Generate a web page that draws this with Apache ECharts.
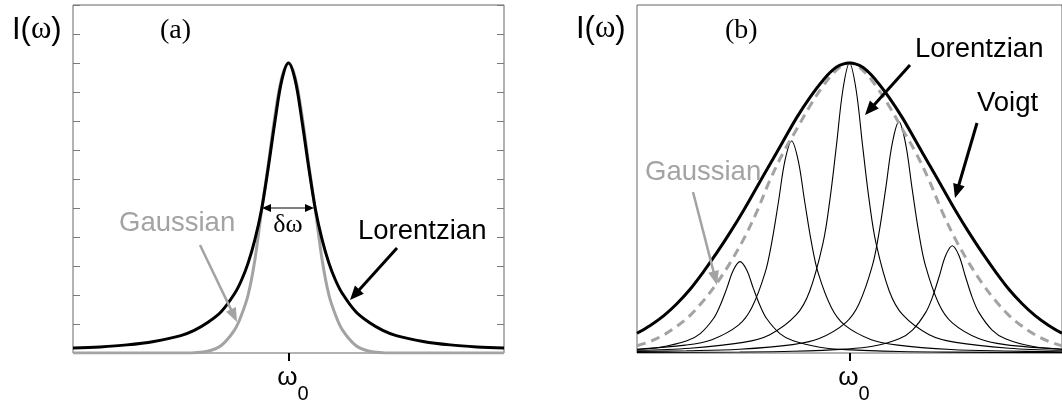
<!DOCTYPE html>
<html>
<head>
<meta charset="utf-8">
<script src="https://cdn.jsdelivr.net/npm/echarts@6/dist/echarts.min.js"></script>
<style>
  html, body { margin: 0; padding: 0; background: #ffffff; }
  #chart { width: 1062px; height: 405px; }
</style>
</head>
<body>
<div id="chart"></div>
<script>
// ---- Panel (a): single line shapes, x in units of detuning from omega_0 ----
const leftX = [-8, -7, -6, -5, -4, -3.5, -3, -2.5, -2, -1.75, -1.5, -1.25, -1, -0.75, -0.5, -0.25, 0,
               0.25, 0.5, 0.75, 1, 1.25, 1.5, 1.75, 2, 2.5, 3, 3.5, 4, 5, 6, 7, 8];
const lorentzianA = [0.17, 0.21, 0.28, 0.4, 0.6, 0.78, 1.05, 1.42, 2.05, 2.5, 3.1, 3.9, 4.95, 6.4, 8.0, 9.4, 10,
                     9.4, 8.0, 6.4, 4.95, 3.9, 3.1, 2.5, 2.05, 1.42, 1.05, 0.78, 0.6, 0.4, 0.28, 0.21, 0.17];
const gaussianA = [0, 0, 0, 0, 0, 0.01, 0.06, 0.26, 0.8, 1.3, 2.0, 3.2, 4.9, 6.5, 8.2, 9.5, 10,
                   9.5, 8.2, 6.5, 4.9, 3.2, 2.0, 1.3, 0.8, 0.26, 0.06, 0.01, 0, 0, 0, 0, 0];

// ---- Panel (b): inhomogeneous broadening ----
const rightX = [-8, -7.5, -7, -6.5, -6, -5.5, -5, -4.5, -4, -3.5, -3, -2.5, -2, -1.5, -1, -0.5, 0,
                0.5, 1, 1.5, 2, 2.5, 3, 3.5, 4, 4.5, 5, 5.5, 6, 6.5, 7, 7.5, 8];
const voigtB = [0.68, 0.95, 1.28, 1.7, 2.2, 2.8, 3.45, 4.15, 4.9, 5.7, 6.5, 7.3, 8.1, 8.8, 9.4, 9.85, 10,
                9.85, 9.4, 8.8, 8.1, 7.3, 6.5, 5.7, 4.9, 4.15, 3.45, 2.8, 2.2, 1.7, 1.28, 0.95, 0.68];
const gaussianB = [0.25, 0.4, 0.62, 0.92, 1.3, 1.8, 2.4, 3.1, 3.9, 4.85, 5.95, 6.9, 7.7, 8.5, 9.2, 9.75, 10,
                   9.75, 9.2, 8.5, 7.7, 6.9, 5.95, 4.85, 3.9, 3.1, 2.4, 1.8, 1.3, 0.92, 0.62, 0.4, 0.25];

// individual homogeneous (Lorentzian) lines, [x, intensity]
const line1 = [[-8, 0.12], [-7.12, 0.2], [-6.12, 0.42], [-5.62, 0.67], [-5.12, 1.19], [-4.87, 1.64], [-4.62, 2.23],
               [-4.37, 2.86], [-4.12, 3.15], [-3.87, 2.86], [-3.62, 2.23], [-3.37, 1.64], [-3.12, 1.19], [-2.62, 0.67],
               [-2.12, 0.42], [-1.12, 0.2], [-0.12, 0.115], [1.88, 0.052], [3.88, 0.03], [8, 0.013]];
const line2 = [[-8, 0.13], [-6.18, 0.27], [-5.18, 0.46], [-4.18, 0.96], [-3.68, 1.56], [-3.18, 2.76], [-2.93, 3.8],
               [-2.68, 5.18], [-2.43, 6.63], [-2.18, 7.31], [-1.93, 6.63], [-1.68, 5.18], [-1.43, 3.8], [-1.18, 2.76],
               [-0.68, 1.56], [-0.18, 0.96], [0.82, 0.46], [1.82, 0.27], [3.82, 0.12], [5.82, 0.069], [8, 0.043]];
const line3 = [[-8, 0.094], [-6, 0.166], [-4, 0.366], [-3, 0.633], [-2, 1.32], [-1.5, 2.13], [-1, 3.78], [-0.75, 5.2],
               [-0.5, 7.09], [-0.25, 9.07], [0, 10], [0.25, 9.07], [0.5, 7.09], [0.75, 5.2], [1, 3.78], [1.5, 2.13],
               [2, 1.32], [3, 0.633], [4, 0.366], [6, 0.166], [8, 0.094]];
const line4 = [[-8, 0.05], [-6.14, 0.075], [-4.14, 0.13], [-2.14, 0.29], [-1.14, 0.5], [-0.14, 1.05], [0.36, 1.7],
               [0.86, 3.01], [1.11, 4.14], [1.36, 5.65], [1.61, 7.23], [1.86, 7.97], [2.11, 7.23], [2.36, 5.65],
               [2.61, 4.14], [2.86, 3.01], [3.36, 1.7], [3.86, 1.05], [4.86, 0.5], [5.86, 0.29], [8, 0.13]];
const line5 = [[-8, 0.016], [-4.13, 0.035], [-2.13, 0.061], [-0.13, 0.135], [0.87, 0.23], [1.87, 0.49], [2.37, 0.79],
               [2.87, 1.4], [3.12, 1.92], [3.37, 2.62], [3.62, 3.36], [3.87, 3.7], [4.12, 3.36], [4.37, 2.62],
               [4.62, 1.92], [4.87, 1.4], [5.37, 0.79], [5.87, 0.49], [6.87, 0.23], [8, 0.13]];

const xTickValues = [0];
const yRange = { min: 0, max: 12, interval: 1 };

const GRAY = '#a3a3a3';
const BORDER = '#666666';
const SANS = '"Liberation Sans", Arial, sans-serif';
const SERIF = '"Liberation Serif", "Times New Roman", serif';

const pairs = (xs, ys) => xs.map((x, i) => [x, ys[i]]);

const chart = echarts.init(document.getElementById('chart'), null, { renderer: 'canvas' });

function xAxisFor(gridIndex) {
  return {
    gridIndex, type: 'value', min: -8, max: 8,
    axisLine: { show: false, onZero: false }, splitLine: { show: false }, axisLabel: { show: false },
    axisTick: { show: true, customValues: xTickValues, length: 8, lineStyle: { color: '#000', width: 2 } }
  };
}
function yAxisFor(gridIndex, position, ticks) {
  return {
    gridIndex, type: 'value', position, min: yRange.min, max: yRange.max, interval: yRange.interval,
    axisLine: { show: false, onZero: false }, splitLine: { show: false }, axisLabel: { show: false },
    axisTick: { show: ticks, inside: true, length: 7, lineStyle: { color: '#7a7a7a', width: 1 } }
  };
}
function curve(name, data, xi, yi, color, width, extra) {
  return Object.assign({
    name, type: 'line', xAxisIndex: xi, yAxisIndex: yi, data, showSymbol: false, symbol: 'none',
    smooth: 0.35, silent: true, lineStyle: { color, width }
  }, extra || {});
}

chart.setOption({
  animation: false,
  grid: [
    { left: 73, top: 5, width: 431, height: 348, show: true, borderColor: BORDER, borderWidth: 1 },
    { left: 637, top: 5, width: 430, height: 348, show: true, borderColor: BORDER, borderWidth: 1 }
  ],
  xAxis: [xAxisFor(0), xAxisFor(1)],
  yAxis: [yAxisFor(0, 'left', true), yAxisFor(0, 'right', true), yAxisFor(1, 'left', false)],
  series: [
    curve('Gaussian', pairs(leftX, gaussianA), 0, 0, GRAY, 3),
    curve('Lorentzian', pairs(leftX, lorentzianA), 0, 0, '#000', 3),
    curve('line1', line1, 1, 2, '#000', 1.1),
    curve('line2', line2, 1, 2, '#000', 1.1),
    curve('line3', line3, 1, 2, '#000', 1.1),
    curve('line4', line4, 1, 2, '#000', 1.1),
    curve('line5', line5, 1, 2, '#000', 1.1),
    curve('Gaussian envelope', pairs(rightX, gaussianB), 1, 2, GRAY, 3, { lineStyle: { color: GRAY, width: 3, type: [9, 6] } }),
    curve('Voigt', pairs(rightX, voigtB), 1, 2, '#000', 3)
  ]
});

// ---- annotations ----
function arrow(x1, y1, x2, y2, color, width, len, half, both) {
  const els = [];
  const dx = x2 - x1, dy = y2 - y1, d = Math.hypot(dx, dy), ux = dx / d, uy = dy / d;
  const head = (tx, ty, sx, sy) => {
    const bx = tx - sx * len, by = ty - sy * len;
    return { type: 'polygon', z: 100, shape: { points: [[tx, ty], [bx - sy * half, by + sx * half], [bx + sy * half, by - sx * half]] }, style: { fill: color } };
  };
  const sx = both ? x1 + ux * len * 0.8 : x1, sy = both ? y1 + uy * len * 0.8 : y1;
  els.push({ type: 'line', z: 99, shape: { x1: sx, y1: sy, x2: x2 - ux * len * 0.8, y2: y2 - uy * len * 0.8 }, style: { stroke: color, lineWidth: width } });
  els.push(head(x2, y2, ux, uy));
  if (both) els.push(head(x1, y1, -ux, -uy));
  return els;
}
function label(text, x, y, font, fill, align) {
  return { type: 'text', z: 100, x, y, style: { text, font, fill: fill || '#000', align: align || 'left', verticalAlign: 'middle' } };
}
function intensityLabel(x, y) {
  return {
    type: 'text', z: 100, x, y,
    style: {
      text: '{s|I(}{g|ω}{s|)}', verticalAlign: 'middle', align: 'left',
      rich: { s: { font: '31px ' + SANS, fill: '#000' }, g: { font: '31px ' + SERIF, fill: '#000' } }
    }
  };
}

const p0 = chart.convertToPixel({ gridIndex: 0 }, [0, 0]);
const p1 = chart.convertToPixel({ gridIndex: 1 }, [0, 0]);
const omegaLabel = (px) => [
  label('ω', px[0] - 1, 378, '26px ' + SANS, '#000', 'center'),
  label('0', px[0] + 9, 394, '20px ' + SANS, '#000', 'left')
];

const elements = [].concat(
  [intensityLabel(12, 30), label('(a)', 160, 31, '28px ' + SERIF)],
  [intensityLabel(576, 29), label('(b)', 725, 31, '28px ' + SERIF)],
  [label('Gaussian', 119, 223, '27.5px ' + SANS, GRAY), label('Lorentzian', 358, 231, '27.5px ' + SANS)],
  [label('δω', 288, 225, '26px ' + SERIF, '#000', 'center')],
  arrow(262, 208, 314, 208, '#000', 1, 9, 4, true),
  arrow(200, 245, 237, 322, GRAY, 2.5, 14, 5.5, false),
  arrow(397, 248, 350, 300, '#000', 3, 14, 6, false),
  [label('Lorentzian', 915, 49, '27.5px ' + SANS), label('Voigt', 977, 103, '27.5px ' + SANS),
   label('Gaussian', 645, 172, '27.5px ' + SANS, GRAY)],
  arrow(693, 192, 717, 285, GRAY, 2.5, 14, 5.5, false),
  arrow(910, 65, 865, 115, '#000', 3, 14, 6, false),
  arrow(977, 123, 955, 198, '#000', 3, 14, 6, false),
  omegaLabel(p0), omegaLabel(p1)
);

chart.setOption({ graphic: { elements } });
</script>
</body>
</html>
